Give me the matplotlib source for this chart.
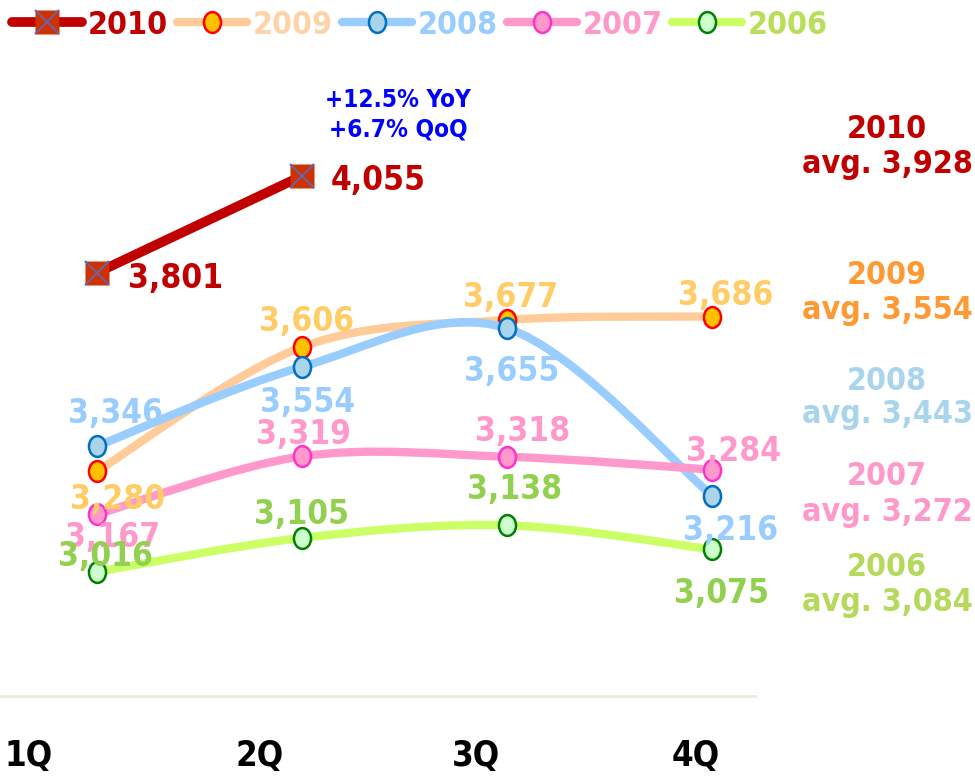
import numpy as np
import matplotlib
matplotlib.use("Agg")
import matplotlib.pyplot as plt
from matplotlib.path import Path
from matplotlib.patches import PathPatch
from matplotlib.transforms import Affine2D
from matplotlib.lines import Line2D
from matplotlib.legend_handler import HandlerTuple
from matplotlib.font_manager import FontProperties

# data
quarters = ["1Q", "2Q", "3Q", "4Q"]
years = ["2010", "2009", "2008", "2007", "2006"]
v2010 = [3801, 4055]
v2009 = [3280, 3606, 3677, 3686]
v2008 = [3346, 3554, 3655, 3216]
v2007 = [3167, 3319, 3318, 3284]
v2006 = [3016, 3105, 3138, 3075]
avg_values = ["3,928", "3,554", "3,443", "3,272", "3,084"]
note = "+12.5% YoY\n+6.7% QoQ"

W, H = 975, 776
FONT = dict(family="DejaVu Sans", fontstretch="condensed", fontweight="bold")


def fxy(x, y):
    # pixel position -> figure fraction
    return x / W, 1 - y / H


def smooth_path(xs, ys):
    pts = np.column_stack([xs, ys]).astype(float)
    n = len(pts)
    verts = [pts[0]]
    codes = [Path.MOVETO]
    for i in range(n - 1):
        p0 = pts[max(i - 1, 0)]
        p1 = pts[i]
        p2 = pts[i + 1]
        p3 = pts[min(i + 2, n - 1)]
        verts += [p1 + (p2 - p0) / 6, p2 - (p3 - p1) / 6, p2]
        codes += [Path.CURVE4] * 3
    return Path(verts, codes)


ell = Path.unit_circle().transformed(Affine2D().scale(0.82, 1.0))

fig = plt.figure(figsize=(W / 100, H / 100), dpi=100)
ax = fig.add_axes([0, 80 / H, 755 / W, 696 / H])
ax.set_xlim(-97 / 205, 658 / 205)
ax.set_ylim(2690, 2690 + 696 / 0.381)
for s in ["top", "left", "right"]:
    ax.spines[s].set_visible(False)
ax.spines["bottom"].set_color("#EEECE1")
ax.spines["bottom"].set_linewidth(2.2)
ax.set_xticks([])
ax.set_yticks([])

series = [
    # values, line, marker face, marker edge, label colour, z, label offsets (px)
    (v2009, "#FFCC99", "#FFC000", "#FF0000", "#FFCC66", 2,
     [(21, -28), (5, 26), (4, 22), (14, 21)]),
    (v2008, "#99CCFF", "#A9D4EA", "#0070C0", "#99CCFF", 3,
     [(19, 33), (6, -36), (5, -43), (19, -35)]),
    (v2007, "#FF99CC", "#FF99CC", "#FF33CC", "#FF99CC", 4,
     [(16, -23), (1, 22), (16, 25), (21, 18)]),
    (v2006, "#CCFF66", "#CCFFCC", "#008000", "#92D050", 5,
     [(8, 15), (0, 23), (8, 36), (10, -44)]),
]

handles = {}
for vals, lc, mfc, mec, tc, z, offs in series:
    x = np.arange(len(vals))
    ax.add_patch(PathPatch(smooth_path(x, vals), facecolor="none", edgecolor=lc,
                           lw=6, capstyle="round", zorder=z))
    ax.plot(x, vals, ls="none", marker=ell, ms=15, mfc=mfc, mec=mec, mew=1.8,
            zorder=z + 0.1)
    for xi, v, (dx, dy) in zip(x, vals, offs):
        ax.annotate(f"{v:,}", (xi, v), xytext=(dx, dy), textcoords="offset pixels",
                    ha="center", va="center", color=tc, fontsize=24,
                    zorder=10 + z, **FONT)
    handles[lc] = Line2D([], [], color=lc, lw=6, solid_capstyle="round",
                         marker=ell, ms=15, mfc=mfc, mec=mec, mew=1.8)

# 2010 only has two quarters
x10 = np.arange(len(v2010))
ax.plot(x10, v2010, color="#C00000", lw=7, solid_capstyle="round", zorder=6)
ax.plot(x10, v2010, ls="none", marker="s", ms=17, mfc="#CC3300", mec="none", zorder=6.1)
ax.plot(x10, v2010, ls="none", marker="x", ms=17, mec="#7060A0", mew=1.5, zorder=6.2)
for xi, v, (dx, dy) in zip(x10, v2010, [(31, -6), (29, -5)]):
    ax.annotate(f"{v:,}", (xi, v), xytext=(dx, dy), textcoords="offset pixels",
                ha="left", va="center", color="#C00000", fontsize=24,
                zorder=20, **FONT)

h2010 = (Line2D([], [], color="#C00000", lw=7, solid_capstyle="round",
                marker="s", ms=17, mfc="#CC3300", mec="none"),
         Line2D([], [], ls="none", marker="x", ms=17, mec="#7060A0", mew=1.5))
leg_handles = [h2010, handles["#FFCC99"], handles["#99CCFF"],
               handles["#FF99CC"], handles["#CCFF66"]]
leg_colors = ["#C00000", "#FFD3A8", "#99CCFF", "#FF99CC", "#B8DE5A"]
fig.legend(leg_handles, years, loc="center left", bbox_to_anchor=fxy(12, 25),
           ncol=5, frameon=False, handlelength=2.2, handletextpad=0.16,
           columnspacing=0.3, borderaxespad=0, borderpad=0,
           prop=FontProperties(family="DejaVu Sans", weight="bold", size=23,
                               stretch="condensed"),
           labelcolor=leg_colors, handler_map={tuple: HandlerTuple(ndivide=1)})

# quarter labels
for q, xp in zip(quarters, [5, 235, 452, 672]):
    fig.text(*fxy(xp, 756), q, ha="left", va="center", color="black",
             fontsize=25, **FONT)

# yearly averages on the right
avg_colors = ["#C00000", "#FF9933", "#A9D5EC", "#FF99CC", "#B5D95A"]
avg_rows = [(129, 164), (275, 311), (381, 415), (476, 512), (567, 602)]
for yr, av, c, (y1, y2) in zip(years, avg_values, avg_colors, avg_rows):
    fig.text(*fxy(887, y1), yr, ha="center", va="center", color=c, fontsize=23,
             **FONT)
    fig.text(*fxy(887, y2), "avg. " + av, ha="center", va="center", color=c,
             fontsize=23, **FONT)

fig.text(*fxy(398, 115), note, ha="center", va="center", color="#0000FF",
         fontsize=17.5, linespacing=1.3, **FONT)

fig.savefig("out.png", dpi=100)
